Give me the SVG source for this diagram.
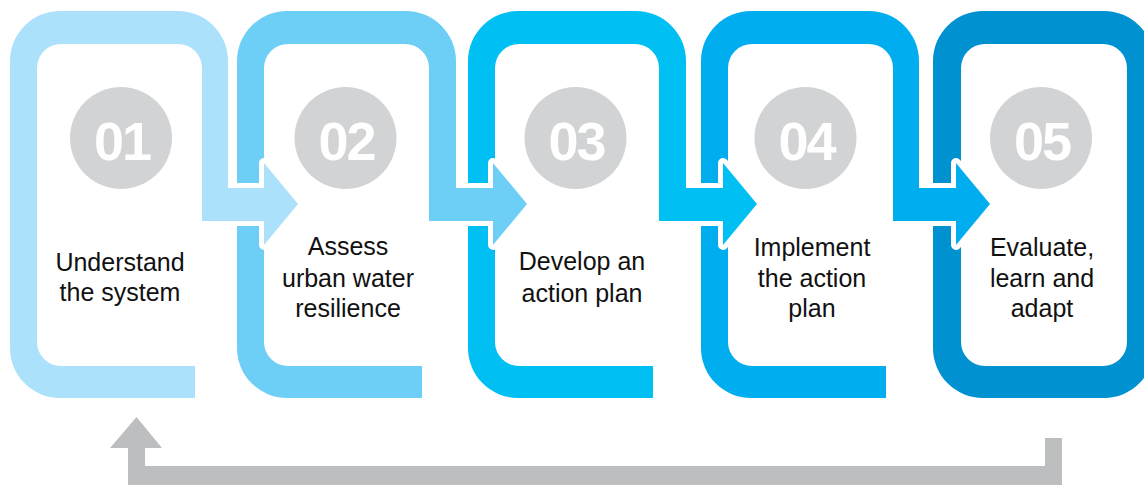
<svg xmlns="http://www.w3.org/2000/svg" width="1144" height="485" viewBox="0 0 1144 485">
  <style>
    .ring { stroke: #ffffff; stroke-width: 10; stroke-linejoin: round; paint-order: stroke fill; }
    .num-bg { fill: #D1D3D4; }
    .num { font-family: "Liberation Sans", Arial, sans-serif; font-weight: bold; font-size: 54px; fill: #ffffff; text-anchor: middle; letter-spacing: -2px; }
    .lbl { font-family: "Liberation Sans", Arial, sans-serif; font-size: 25px; fill: #111111; text-anchor: middle; }
  </style>
  <rect width="1144" height="485" fill="#ffffff"/>

  <g id="step5">
    <path fill="#0091D1" fill-rule="evenodd" d="M983,11 L1104,11 A50,50 0 0 1 1154,61 L1154,348 A50,50 0 0 1 1104,398 L983,398 A50,50 0 0 1 933,348 L933,61 A50,50 0 0 1 983,11 Z M985,44 L1103,44 A24,24 0 0 1 1127,68 L1127,342 A24,24 0 0 1 1103,366 L985,366 A24,24 0 0 1 961,342 L961,68 A24,24 0 0 1 985,44 Z"/>
    <circle class="num-bg" cx="1041" cy="138" r="51"/>
    <text class="num" x="1042" y="160">05</text>
    <text class="lbl" x="1042"><tspan x="1042" y="256">Evaluate,</tspan><tspan x="1042" y="287">learn and</tspan><tspan x="1042" y="317">adapt</tspan></text>
  </g>

  <g id="step4">
    <path class="ring" fill="#00AEEF" d="M886,398 L751,398 A50,50 0 0 1 701,348 L701,61 A50,50 0 0 1 751,11 L869,11 A50,50 0 0 1 919,61 L919,188 L956,188 L956,163 L990,204 L956,245 L956,221 L893,221 L893,68 A24,24 0 0 0 869,44 L752,44 A24,24 0 0 0 728,68 L728,342 A24,24 0 0 0 752,366 L886,366 Z"/>
    <circle class="num-bg" cx="805.5" cy="138" r="51"/>
    <text class="num" x="806.5" y="160">04</text>
    <text class="lbl" x="812"><tspan x="812" y="256">Implement</tspan><tspan x="812" y="287">the action</tspan><tspan x="812" y="317">plan</tspan></text>
  </g>

  <g id="step3">
    <path class="ring" fill="#00BFF3" d="M653,398 L518,398 A50,50 0 0 1 468,348 L468,61 A50,50 0 0 1 518,11 L636,11 A50,50 0 0 1 686,61 L686,188 L723,188 L723,163 L757,204 L723,245 L723,221 L659,221 L659,68 A24,24 0 0 0 635,44 L519,44 A24,24 0 0 0 495,68 L495,342 A24,24 0 0 0 519,366 L653,366 Z"/>
    <circle class="num-bg" cx="575.5" cy="138" r="51"/>
    <text class="num" x="576.5" y="160">03</text>
    <text class="lbl" x="582"><tspan x="582" y="270">Develop an</tspan><tspan x="582" y="302">action plan</tspan></text>
  </g>

  <g id="step2">
    <path class="ring" fill="#6DCFF6" d="M422,398 L287,398 A50,50 0 0 1 237,348 L237,61 A50,50 0 0 1 287,11 L406,11 A50,50 0 0 1 456,61 L456,188 L493,188 L493,163 L527,204 L493,245 L493,221 L429,221 L429,68 A24,24 0 0 0 405,44 L288,44 A24,24 0 0 0 264,68 L264,342 A24,24 0 0 0 288,366 L422,366 Z"/>
    <circle class="num-bg" cx="345.5" cy="138" r="51"/>
    <text class="num" x="346.5" y="160">02</text>
    <text class="lbl" x="348"><tspan x="348" y="255">Assess</tspan><tspan x="348" y="287">urban water</tspan><tspan x="348" y="317">resilience</tspan></text>
  </g>

  <g id="step1">
    <path class="ring" fill="#ABE1FA" d="M195,398 L60,398 A50,50 0 0 1 10,348 L10,61 A50,50 0 0 1 60,11 L178,11 A50,50 0 0 1 228,61 L228,188 L264,188 L264,163 L298,204 L264,245 L264,221 L202,221 L202,68 A24,24 0 0 0 178,44 L61,44 A24,24 0 0 0 37,68 L37,342 A24,24 0 0 0 61,366 L195,366 Z"/>
    <circle class="num-bg" cx="121" cy="138" r="51"/>
    <text class="num" x="122" y="160">01</text>
    <text class="lbl" x="120"><tspan x="120" y="271">Understand</tspan><tspan x="120" y="301">the system</tspan></text>
  </g>

  <g id="connectors">
    <path id="feedback" fill="#BCBEC0" d="M1045,438 L1062,438 L1062,485 L128,485 L128,448 L110,448 L136.5,417 L162,448 L145,448 L145,466 L1045,466 Z"/>
  </g>
</svg>
